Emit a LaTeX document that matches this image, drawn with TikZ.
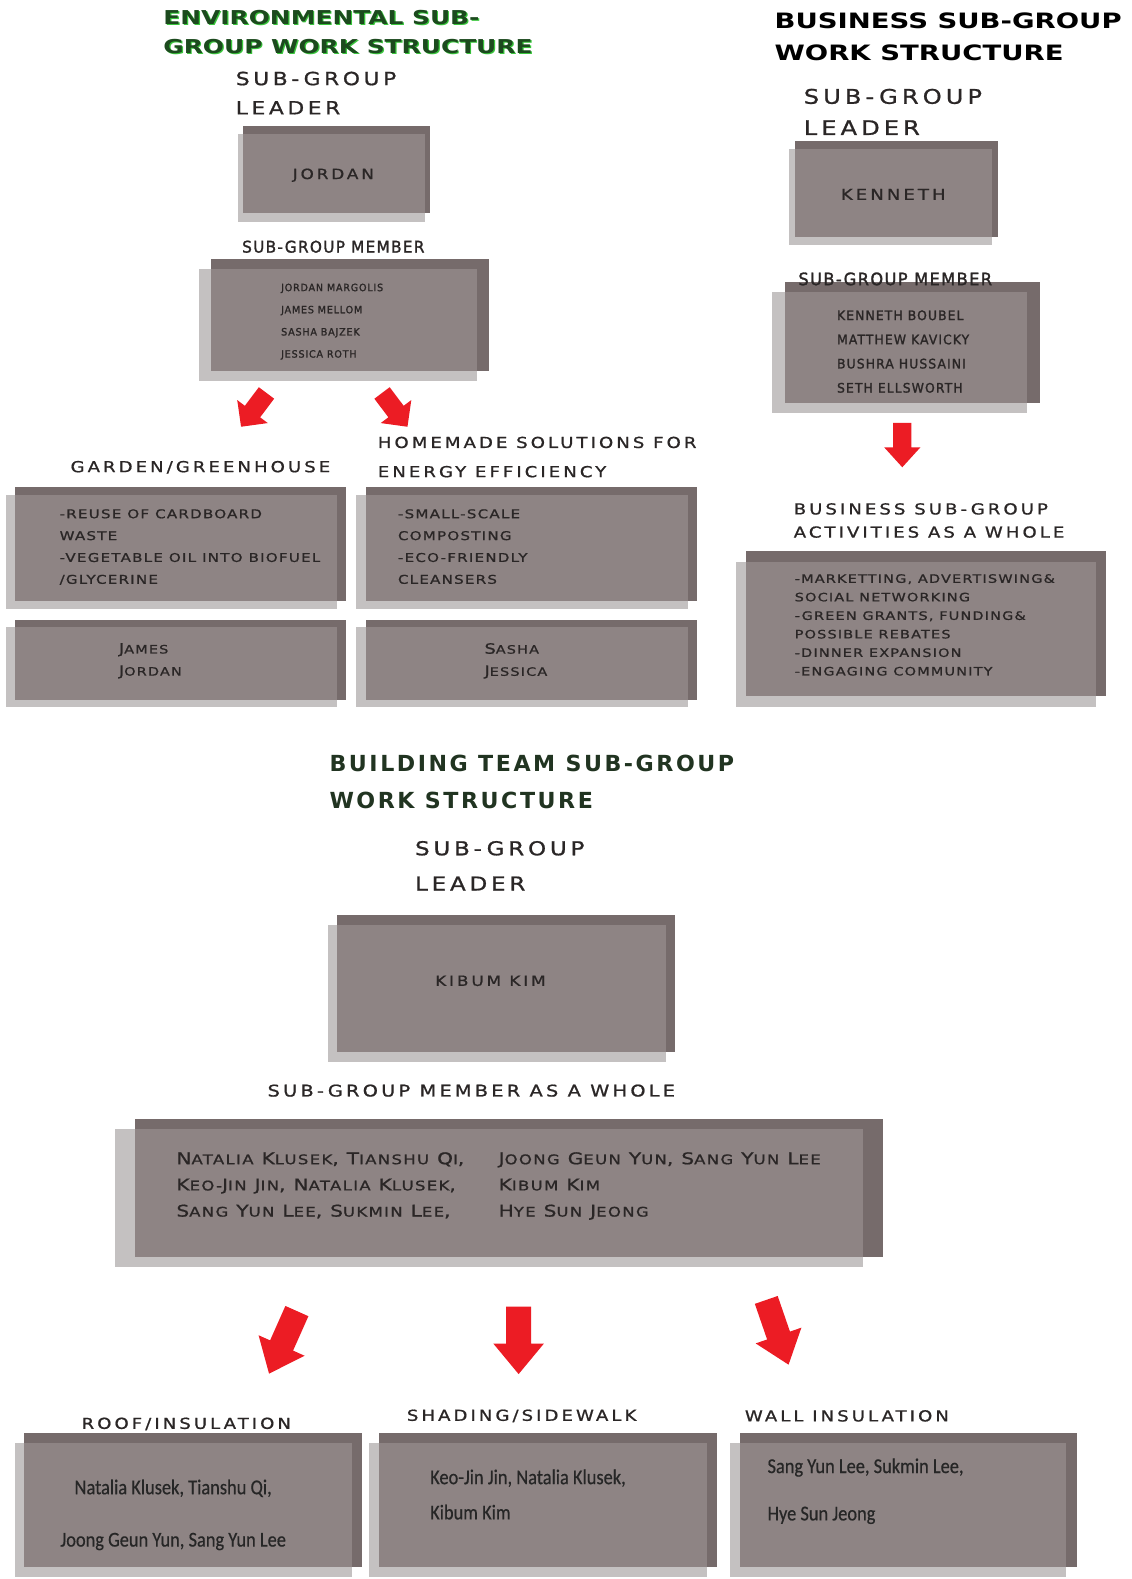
\documentclass[tikz,border=0pt]{standalone}
\usepackage{fontspec}
\usepackage{graphicx}
\newfontfamily\titlefont{DejaVu Sans}[FakeStretch=1.3]
\newfontfamily\buildfont{DejaVu Sans}[LetterSpace=11.5]
\newfontfamily\spacedfont{DejaVu Sans}[FakeStretch=1.2,LetterSpace=20,FakeBold=1]
\newfontfamily\boxfont{DejaVu Sans}[FakeStretch=1.25,LetterSpace=10,FakeBold=1]
\newfontfamily\memberfont{DejaVu Sans}[FakeStretch=0.95,LetterSpace=8,FakeBold=1.5]
\newfontfamily\namefont{Carlito}[FakeStretch=0.87,FakeBold=0.5]

\definecolor{boxmid}{HTML}{8E8484}
\definecolor{boxdark}{HTML}{766B6B}
\definecolor{boxlight}{HTML}{C4C1C1}
\definecolor{inktext}{HTML}{2A2626}
\definecolor{envgreen}{HTML}{1C4A1E}
\definecolor{envglow}{HTML}{39C63C}
\definecolor{bldgreen}{HTML}{213421}
\definecolor{arrowred}{HTML}{EC1C24}

\newcommand\capword[2]{#1\scalebox{0.82}{#2}}
\newcommand\fs[2]{\fontsize{#1}{#2}\selectfont}
\def\panel(#1,#2)(#3,#4)[#5,#6]{%
  \fill[boxdark] (#1+#5,#2) rectangle (#3,#4-#6);
  \fill[boxlight] (#1,#2+#6) rectangle (#3-#5,#4);
  \fill[boxmid] (#1+#5,#2+#6) rectangle (#3-#5,#4-#6);}
\def\blockarrow(#1,#2)[#3,#4,#5]{%
  \fill[arrowred, shift={(#1,#2)}, rotate=#3, xscale=#4, yscale=#5]
    (-0.25,-0.5) -- (0.25,-0.5) -- (0.25,0.05) -- (0.5,0.05) -- (0,0.5) -- (-0.5,0.05) -- (-0.25,0.05) -- cycle;}

\begin{document}
\begin{tikzpicture}[x=1pt, y=-1pt,
    every node/.style={inner sep=0pt, text=inktext},
    titletext/.style 2 args={font=\titlefont\bfseries\fs{#1}{#2}, align=left, anchor=north west},
    headtext/.style 2 args={font=\spacedfont\fs{#1}{#2}, align=left, anchor=north west},
    membertext/.style 2 args={font=\memberfont\fs{#1}{#2}, align=left, anchor=north west},
    boxtext/.style 2 args={font=\boxfont\fs{#1}{#2}, align=left, anchor=north west},
    nametext/.style 2 args={font=\namefont\fs{#1}{#2}, align=left, anchor=north west, text=black!85}]
\useasboundingbox[fill=white] (0,0) rectangle (1124,1568);

%%%%% ENVIRONMENTAL %%%%%
\node[titletext={19}{29}, text=envglow] (envtitleglow) at (163.2,11.2) {ENVIRONMENTAL SUB-\\GROUP WORK STRUCTURE};
\node[titletext={19}{29}, text=envgreen] (envtitle) at (162,10) {ENVIRONMENTAL SUB-\\GROUP WORK STRUCTURE};
\node[headtext={18}{29}] (envleadlabel) at (234,71) {SUB-GROUP\\LEADER};

\panel(236,125)(427,220)[5,8]
\node[headtext={14}{14}, anchor=center] (envlead) at (331,174) {JORDAN};

\node[membertext={16}{16}, anchor=center] (envmemberlabel) at (331,245) {SUB-GROUP MEMBER};
\panel(198,257)(486,378)[12,10]
\node[membertext={10}{22}] (envmembers) at (279,281.5) {JORDAN MARGOLIS\\JAMES MELLOM\\SASHA BAJZEK\\JESSICA ROTH};

\blockarrow(252,407)[-37,38,42]
\blockarrow(392,407)[37,38,42]

\node[headtext={15}{15}, anchor=center] (gardenlabel) at (199,464) {GARDEN/GREENHOUSE};
\node[headtext={15}{29}] (homelabel) at (375,433.5) {HOMEMADE SOLUTIONS FOR\\ENERGY EFFICIENCY};

\panel(6,484)(344,605)[9,8]
\node[boxtext={12}{21.7}] (gardentasks) at (59,505.5) {-REUSE OF CARDBOARD\\WASTE\\-VEGETABLE OIL INTO BIOFUEL\\/GLYCERINE};
\panel(354,484)(692,605)[9,8]
\node[boxtext={12}{21.7}] (hometasks) at (395,505.5) {-SMALL-SCALE\\COMPOSTING\\-ECO-FRIENDLY\\CLEANSERS};

\panel(6,616)(344,702)[9,7]
\node[boxtext={14}{22}] (gardenteam) at (118,638.5) {\capword{J}{AMES}\\\capword{J}{ORDAN}};
\panel(354,616)(692,702)[9,7]
\node[boxtext={14}{22}] (hometeam) at (481,638.5) {\capword{S}{ASHA}\\\capword{J}{ESSICA}};

%%%%% BUSINESS %%%%%
\node[titletext={21}{32}, text=black] (bustitle) at (769,12.5) {BUSINESS SUB-GROUP\\WORK STRUCTURE};
\node[headtext={20}{31}] (busleadlabel) at (798,88) {SUB-GROUP\\LEADER};

\panel(783,140)(991,243)[6,8]
\node[headtext={15}{15}, anchor=center] (buslead) at (887,193) {KENNETH};

\panel(767,280)(1033,410)[13,10]
\node[membertext={17}{17}, anchor=center] (busmemberlabel) at (889,277) {SUB-GROUP MEMBER};
\node[membertext={13}{24}] (busmembers) at (831,308) {KENNETH BOUBEL\\MATTHEW KAVICKY\\BUSHRA HUSSAINI\\SETH ELLSWORTH};

\blockarrow(896,442)[0,36,44]

\node[headtext={15}{23}] (busactlabel) at (788,499.5) {BUSINESS SUB-GROUP\\ACTIVITIES AS A WHOLE};
\panel(731,547)(1098,702)[10,11]
\node[boxtext={11.5}{18.4}] (busacts) at (789,570) {-MARKETTING, ADVERTISWING\&\\SOCIAL NETWORKING\\-GREEN GRANTS, FUNDING\&\\POSSIBLE REBATES\\-DINNER EXPANSION\\-ENGAGING COMMUNITY};

%%%%% BUILDING %%%%%
\node[font=\buildfont\bfseries\fs{22}{36}, align=left, anchor=north west, text=bldgreen] (bldtitle) at (327,750) {BUILDING TEAM SUB-GROUP\\WORK STRUCTURE};
\node[headtext={19}{35}] (bldleadlabel) at (412,835) {SUB-GROUP\\LEADER};

\panel(326,909)(670,1055)[9,10]
\node[headtext={14}{14}, anchor=center] (bldlead) at (487,974) {KIBUM KIM};

\node[headtext={16}{16}, anchor=center] (bldmemberlabel) at (468,1083) {SUB-GROUP MEMBER AS A WHOLE};
\panel(114,1111)(877,1258)[20,10]
\node[boxtext={16}{26}] (bldmembersA) at (175,1144) {\capword{N}{ATALIA} \capword{K}{LUSEK}, \capword{T}{IANSHU} \capword{Q}{I},\\\capword{K}{EO-}\capword{J}{IN} \capword{J}{IN}, \capword{N}{ATALIA} \capword{K}{LUSEK},\\\capword{S}{ANG} \capword{Y}{UN} \capword{L}{EE}, \capword{S}{UKMIN} \capword{L}{EE},};
\node[boxtext={16}{26}] (bldmembersB) at (495,1144) {\capword{J}{OONG} \capword{G}{EUN} \capword{Y}{UN}, \capword{S}{ANG} \capword{Y}{UN} \capword{L}{EE}\\\capword{K}{IBUM} \capword{K}{IM}\\\capword{H}{YE} \capword{S}{UN} \capword{J}{EONG}};

\blockarrow(281,1333)[-24,50,68]
\blockarrow(515,1331)[0,50,67]
\blockarrow(772,1323)[19,48,68]

\node[headtext={15}{15}, anchor=center] (rooflabel) at (185,1414) {ROOF/INSULATION};
\node[headtext={15}{15}, anchor=center] (shadelabel) at (518,1406) {SHADING/SIDEWALK};
\node[headtext={15}{15}, anchor=center] (walllabel) at (841,1406) {WALL INSULATION};

\panel(15,1423)(359,1566)[9,10]
\node[nametext={21}{52}, align=center, anchor=north] (roofteam) at (172,1469) {Natalia Klusek, Tianshu Qi,\\Joong Geun Yun, Sang Yun Lee};
\panel(366,1423)(712,1566)[10,10]
\node[nametext={21}{35}] (shadeteam) at (427,1459) {Keo-Jin Jin, Natalia Klusek,\\Kibum Kim};
\panel(725,1423)(1069,1566)[10,10]
\node[nametext={21}{47}] (wallteam) at (762,1448) {Sang Yun Lee, Sukmin Lee,\\Hye Sun Jeong};
\end{tikzpicture}
\end{document}
